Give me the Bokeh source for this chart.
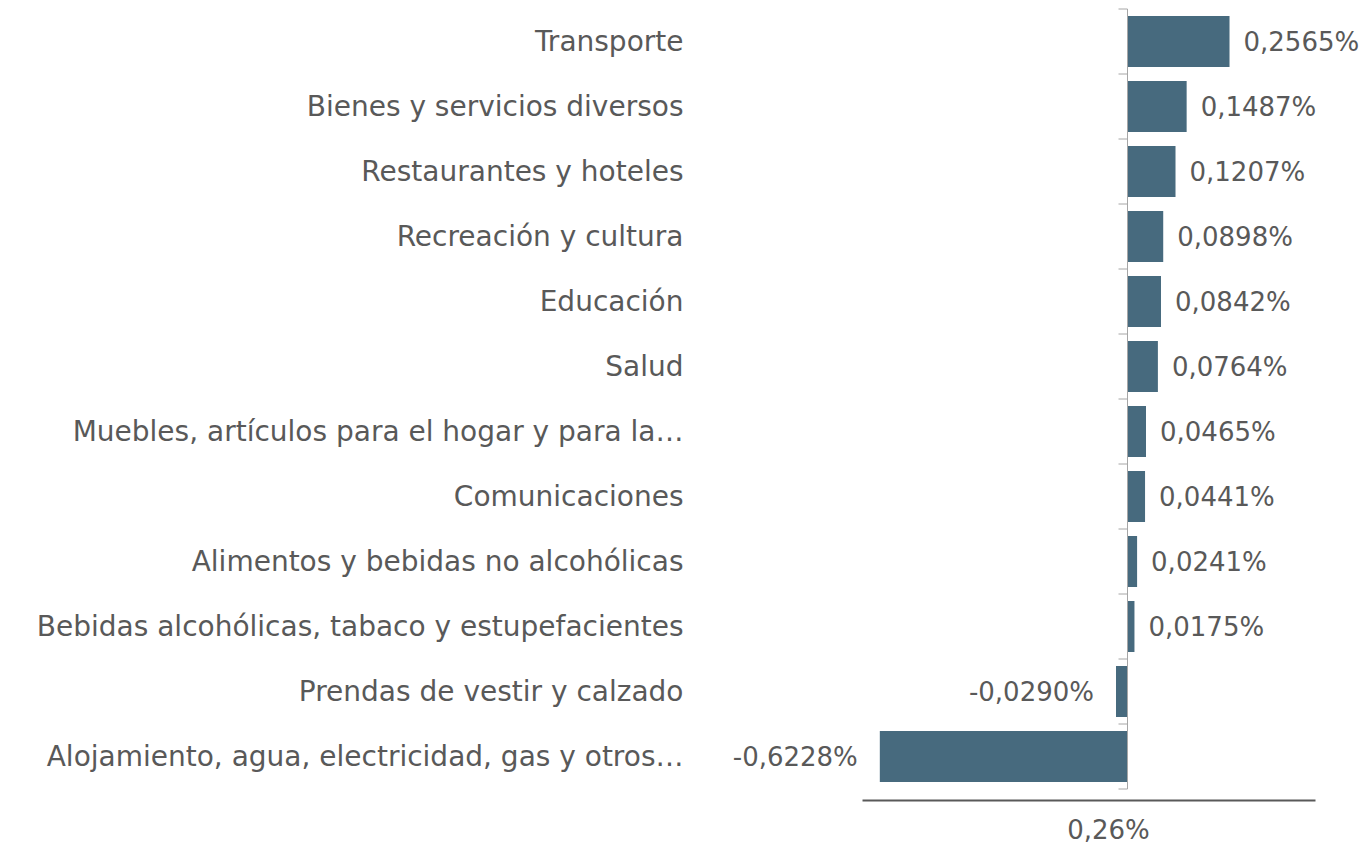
from bokeh.plotting import figure
from bokeh.models import ColumnDataSource, LabelSet, Range1d, FixedTicker
from bokeh.embed import file_html
from bokeh.resources import INLINE
from bokeh.core.properties import value
import math

categories = [
    "Transporte",
    "Bienes y servicios diversos",
    "Restaurantes y hoteles",
    "Recreación y cultura",
    "Educación",
    "Salud",
    "Muebles, artículos para el hogar y para la…",
    "Comunicaciones",
    "Alimentos y bebidas no alcohólicas",
    "Bebidas alcohólicas, tabaco y estupefacientes",
    "Prendas de vestir y calzado",
    "Alojamiento, agua, electricidad, gas y otros…",
]
values = [0.2565, 0.1487, 0.1207, 0.0898, 0.0842, 0.0764,
          0.0465, 0.0441, 0.0241, 0.0175, -0.0290, -0.6228]
total_label = "0,26%"
# value-axis bounds of the horizontal axis line
axis_min, axis_max = -0.6663, 0.4727

FONT = "DejaVu Sans"
FS = "28px"
FS_LBL = "26px"
TXT = "#595959"
BAR = "#476A7E"
AX = "#A6A6A6"

n = len(categories)
ypos = [n - 1 - i for i in range(n)]
labels = [f"{v:.4f}".replace(".", ",") + "%" for v in values]

src = ColumnDataSource(dict(y=ypos, v=values, zero=[0] * n))
pos_src = ColumnDataSource(dict(
    y=[y for y, v in zip(ypos, values) if v >= 0],
    v=[v for v in values if v >= 0],
    t=[t for t, v in zip(labels, values) if v >= 0]))
neg_src = ColumnDataSource(dict(
    y=[y for y, v in zip(ypos, values) if v < 0],
    v=[v for v in values if v < 0],
    t=[t for t, v in zip(labels, values) if v < 0]))

p = figure(width=1364, height=846, output_backend="svg", toolbar_location=None,
           x_range=Range1d(-1.0611, 0.5959), y_range=Range1d(-1.3846, 11.631),
           x_axis_location=None,
           min_border_left=705, min_border_right=0, min_border_top=0,
           min_border_bottom=0)
p.outline_line_color = None
p.xgrid.grid_line_color = None
p.ygrid.grid_line_color = None
p.background_fill_color = "white"
p.border_fill_color = "white"

p.hbar(y="y", left="zero", right="v", height=0.785, source=src,
       fill_color=BAR, line_color=None)

# zero axis with ticks at category boundaries
p.segment(x0=0, y0=-0.5, x1=0, y1=n - 0.5, line_color=AX, line_width=1)
bounds = [k - 0.5 for k in range(n + 1)]
p.ray(x=[0] * len(bounds), y=bounds, length=9, length_units="screen",
      angle=math.pi, line_color=AX, line_width=1)

for s, off, al in ((pos_src, 14, "left"), (neg_src, -22, "right")):
    p.add_layout(LabelSet(x="v", y="y", text="t", source=s, x_offset=off,
                          text_align=al, text_baseline="middle",
                          text_font=value(FONT), text_font_size=FS_LBL,
                          text_color=TXT))

# horizontal axis line with the total as its title
y_line = -0.677
p.segment(x0=axis_min, y0=y_line, x1=axis_max, y1=y_line, line_color=TXT, line_width=2)
p.text(x=[0], y=[-1.138], text=[total_label], x_offset=-19, text_align="center",
       text_baseline="middle", text_font=value(FONT), text_font_size=FS_LBL,
       text_color=TXT)

# y axis: category names
p.yaxis.ticker = FixedTicker(ticks=ypos)
p.yaxis.major_label_overrides = {y: c for y, c in zip(ypos, categories)}
p.yaxis.axis_line_color = None
p.yaxis.major_tick_line_color = None
p.yaxis.minor_tick_line_color = None
p.yaxis.major_tick_out = 0
p.yaxis.minor_tick_out = 0
p.yaxis.major_label_standoff = 22
p.yaxis.major_label_text_font = FONT
p.yaxis.major_label_text_font_size = FS
p.yaxis.major_label_text_color = TXT

open("out.html", "w").write(file_html(p, INLINE))
